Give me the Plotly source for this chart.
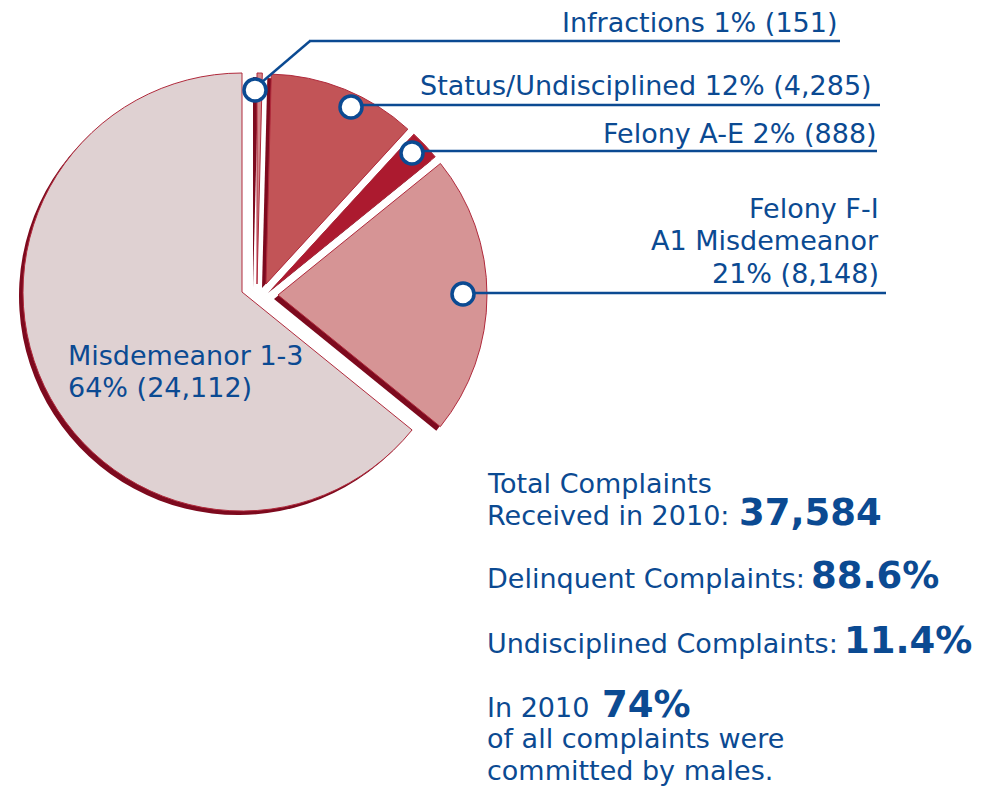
import plotly.graph_objects as go

# ---------------- data ----------------
categories = ["Infractions", "Status/Undisciplined", "Felony A-E",
              "Felony F-I / A1 Misdemeanor", "Misdemeanor 1-3"]
counts = [151, 4285, 888, 8148, 24112]
pct_labels = ["1%", "12%", "2%", "21%", "64%"]
total_complaints = 37584
delinquent_pct = "88.6%"
undisciplined_pct = "11.4%"
male_pct = "74%"

# ---------------- styling / layout constants ----------------
W, H = 1002, 787
BLUE = "#0B4A92"
FONT = "DejaVu Sans"
FS = 27
FSB = 37
slice_colors = ["#D3878A", "#C25457", "#AC1A2F", "#D69495", "#DFD1D2"]
OUTLINE = "#B02A3C"
SHADOW = "#7D0A1E"
SH_DX, SH_DY = -4, 4
# per-slice (centre x, centre y, radius) in pixels: exploded look
geom = [(257, 284, 211), (266, 284, 210), (272, 289, 210),
        (278, 295, 209), (242, 292, 219)]


def px(x):
    return x / W


def py(y):
    return 1 - y / H


fig = go.Figure()
n = len(counts)


def add_slice(i, dx, dy, color, line_color):
    cx, cy, r = geom[i]
    cx += dx
    cy += dy
    cols = ["rgba(0,0,0,0)"] * n
    lcols = ["rgba(0,0,0,0)"] * n
    cols[i] = color
    lcols[i] = line_color
    fig.add_trace(go.Pie(
        labels=categories, values=counts, sort=False, direction="clockwise",
        rotation=0, textinfo="none", hoverinfo="label+value+percent",
        showlegend=False,
        marker=dict(colors=cols, line=dict(color=lcols, width=1)),
        domain=dict(x=[px(cx - r), px(cx + r)], y=[py(cy + r), py(cy - r)]),
    ))


for i in range(n):
    add_slice(i, SH_DX, SH_DY, SHADOW, "rgba(0,0,0,0)")
for i in range(n):
    add_slice(i, 0, 0, slice_colors[i], OUTLINE)

shapes = []
annotations = []


def line(x0, y0, x1, y1):
    shapes.append(dict(type="line", xref="paper", yref="paper",
                       x0=px(x0), y0=py(y0), x1=px(x1), y1=py(y1),
                       line=dict(color=BLUE, width=2.4)))


def circ(x, y, rr=11):
    shapes.append(dict(type="circle", xref="paper", yref="paper",
                       x0=px(x - rr), x1=px(x + rr), y0=py(y + rr), y1=py(y - rr),
                       fillcolor="white", line=dict(color=BLUE, width=3.5)))


def text(x, baseline, s, anchor="left", size=FS, bold=False):
    t = f"<b>{s}</b>" if bold else s
    annotations.append(dict(xref="paper", yref="paper", x=px(x),
                            y=py(baseline - 0.35 * size), xanchor=anchor,
                            yanchor="middle", showarrow=False, text=t,
                            font=dict(family=FONT, size=size, color=BLUE),
                            borderpad=0))


# leader lines
line(262, 82, 310, 41)
line(309, 41, 840, 41)
line(351, 105, 880, 105)
line(412, 151, 877, 151)
line(463, 293, 886, 293)
circ(255, 90)
circ(351, 107)
circ(412, 153)
circ(463, 294)

# slice labels
text(838, 32, f"{categories[0]} {pct_labels[0]} ({counts[0]:,})", "right")
text(873, 95, f"{categories[1]} {pct_labels[1]} ({counts[1]:,})", "right")
text(878, 143, f"{categories[2]} {pct_labels[2]} ({counts[2]:,})", "right")
text(880, 218, "Felony F-I", "right")
text(880, 250, "A1 Misdemeanor", "right")
text(880, 283, f"{pct_labels[3]} ({counts[3]:,})", "right")
text(67, 365, categories[4])
text(67, 397, f"{pct_labels[4]} ({counts[4]:,})")

# summary block
text(486, 493, "Total Complaints")
text(486, 525, "Received in 2010:")
text(738, 525, f"{total_complaints:,}", size=FSB, bold=True)
text(486, 588, "Delinquent Complaints:")
text(810, 588, delinquent_pct, size=FSB, bold=True)
text(486, 653, "Undisciplined Complaints:")
text(843, 653, undisciplined_pct, size=FSB, bold=True)
text(486, 717, "In 2010")
text(601, 717, male_pct, size=FSB, bold=True)
text(486, 748, "of all complaints were")
text(486, 780, "committed by males.")

fig.update_layout(width=W, height=H, margin=dict(l=0, r=0, t=0, b=0),
                  paper_bgcolor="white", plot_bgcolor="white",
                  shapes=shapes, annotations=annotations,
                  font=dict(family=FONT, color=BLUE))

fig.write_html("out.html", config={"displayModeBar": False},
               post_script="document.body.style.margin='0px';")
